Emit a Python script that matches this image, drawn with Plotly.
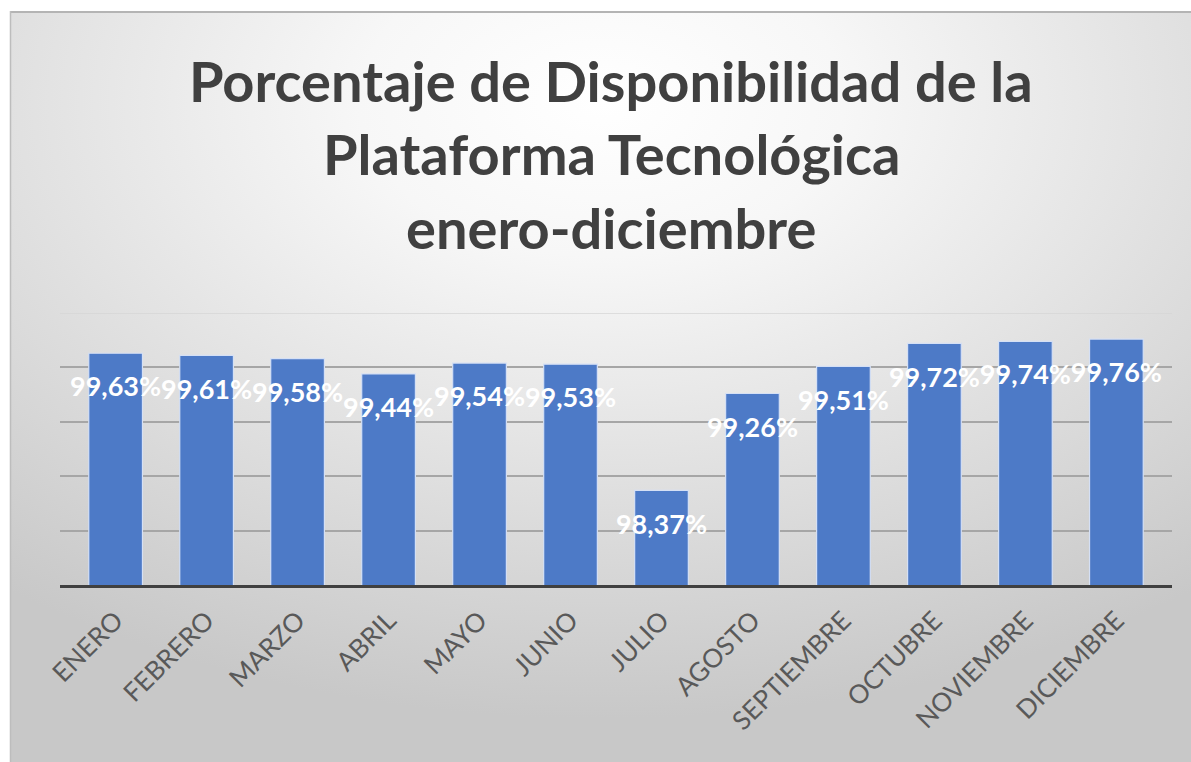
import base64
import plotly.graph_objects as go

months = ["ENERO", "FEBRERO", "MARZO", "ABRIL", "MAYO", "JUNIO", "JULIO",
          "AGOSTO", "SEPTIEMBRE", "OCTUBRE", "NOVIEMBRE", "DICIEMBRE"]
availability = [99.63, 99.61, 99.58, 99.44, 99.54, 99.53, 98.37,
                99.26, 99.51, 99.72, 99.74, 99.76]
title_lines = ["Porcentaje de Disponibilidad de la",
               "Plataforma Tecnológica",
               "enero-diciembre"]

labels = [f"{v:.2f}".replace(".", ",") + "%" for v in availability]
LABEL_DROP = 0.335  # label centre sits a little below the bar top

W, H = 1191, 762
ML, MR, MT, MB = 60, 19, 313, 177
pw, ph = W - ML - MR, H - MT - MB

svg = """<svg xmlns='http://www.w3.org/2000/svg' width='1000' height='1000' preserveAspectRatio='none' viewBox='0 0 1000 1000'>
<defs><radialGradient id='g' cx='0.5' cy='0.12' r='0.82' gradientUnits='objectBoundingBox'>
<stop offset='0' stop-color='#ffffff'/><stop offset='0.25' stop-color='#f7f7f7'/>
<stop offset='1' stop-color='#c8c8c8'/></radialGradient></defs>
<rect x='0' y='0' width='1000' height='1000' fill='url(#g)'/></svg>"""
src = "data:image/svg+xml;base64," + base64.b64encode(svg.encode()).decode()


def px_to_paper_x(px):
    return (px - ML) / pw


def px_to_paper_y(py):
    return (H - MB - py) / ph


fig = go.Figure()
fig.add_trace(go.Bar(
    x=months, y=availability,
    marker=dict(color="#4d7ac7", line=dict(color="#d5e0f5", width=1.2)),
    hoverinfo="x+y",
))
fig.add_trace(go.Scatter(
    x=months, y=[v - LABEL_DROP for v in availability],
    mode="text", text=labels,
    textfont=dict(family="Lato", size=27, color="white", weight="bold"),
    cliponaxis=False, hoverinfo="skip",
))

x0, y0 = 10, 11
fig.add_layout_image(dict(
    source=src, xref="paper", yref="paper",
    x=px_to_paper_x(x0), y=px_to_paper_y(y0),
    sizex=(W + 2 - x0) / pw, sizey=(H + 2 - y0) / ph,
    xanchor="left", yanchor="top", sizing="stretch", layer="below",
))
# frame: top and left edges
fig.add_shape(type="line", xref="paper", yref="paper",
              x0=px_to_paper_x(x0), x1=px_to_paper_x(W),
              y0=px_to_paper_y(y0 + 1), y1=px_to_paper_y(y0 + 1),
              line=dict(color="#b4b4b4", width=2), layer="below")
fig.add_shape(type="line", xref="paper", yref="paper",
              x0=px_to_paper_x(x0 + 0.5), x1=px_to_paper_x(x0 + 0.5),
              y0=px_to_paper_y(y0), y1=px_to_paper_y(H),
              line=dict(color="#bdbdbd", width=1.5), layer="below")
# faint top gridline at 100 %
fig.add_shape(type="line", xref="paper", yref="y", x0=0, x1=1, y0=100, y1=100,
              line=dict(color="#d6d6d6", width=1.5), layer="below")

title_y = [81, 153, 227]
for line, ty in zip(title_lines, title_y):
    fig.add_annotation(
        text=line, xref="paper", yref="paper",
        x=px_to_paper_x(611), y=px_to_paper_y(ty),
        xanchor="center", yanchor="middle", showarrow=False,
        font=dict(family="Lato", size=56, color="#404040", weight="bold"),
    )

fig.update_layout(
    width=W, height=H,
    margin=dict(l=ML, r=MR, t=MT, b=MB, pad=0),
    paper_bgcolor="white", plot_bgcolor="rgba(0,0,0,0)",
    showlegend=False, bargap=0.41,
    font=dict(family="Lato", color="#595959"),
)
fig.update_xaxes(
    tickangle=-45, tickfont=dict(size=26, color="#595959", family="Lato"),
    ticklabelstandoff=7,
    showline=True, linecolor="#404040", linewidth=3, ticks="",
    showgrid=False, zeroline=False,
)
fig.update_yaxes(
    range=[97.5, 100], dtick=0.5, showticklabels=False,
    showgrid=True, gridcolor="#a6a6a6", gridwidth=1.5,
    zeroline=False, showline=False, ticks="",
)

fig.write_html(
    "out.html",
    config={"displayModeBar": False},
    post_script="document.body.style.margin='0';document.body.style.overflow='hidden';",
)
